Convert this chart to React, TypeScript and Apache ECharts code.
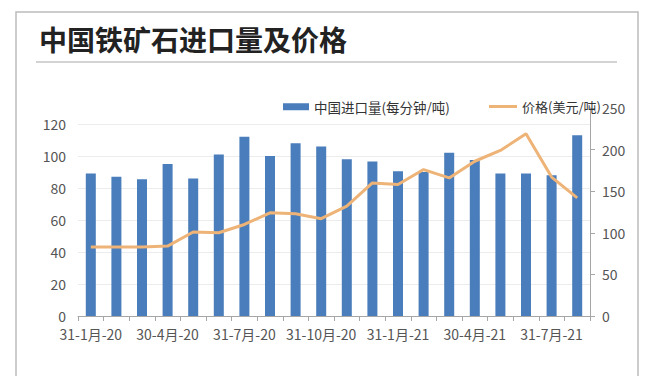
import React, { useEffect, useRef } from "react";
import * as echarts from "echarts";

const categories = [
  "31-1月-20", "29-2月-20", "31-3月-20", "30-4月-20", "31-5月-20", "30-6月-20",
  "31-7月-20", "31-8月-20", "30-9月-20", "31-10月-20", "30-11月-20", "31-12月-20",
  "31-1月-21", "28-2月-21", "31-3月-21", "30-4月-21", "31-5月-21", "30-6月-21",
  "31-7月-21", "31-8月-21",
];
const importVolume = [89, 87, 85.5, 95, 86, 101, 112, 100, 108, 106, 98, 96.5, 90.5, 90, 102, 97.5, 89, 89, 88, 113];
const price = [83, 83, 83, 84, 101, 100, 110, 124, 123, 117, 132, 160, 158, 176, 166, 186, 199, 219, 167, 142];
const barName = "中国进口量(每分钟/吨)";
const lineName = "价格(美元/吨)";
const titleText = "中国铁矿石进口量及价格";

const FONT = "'Noto Sans CJK SC', 'Noto Sans', sans-serif";

export default function App() {
  const ref = useRef<HTMLDivElement>(null);
  useEffect(() => {
    if (!ref.current) return;
    const chart = echarts.init(ref.current, null, { renderer: "svg" });
    const labelStyle = { color: "#555", fontSize: 14, lineHeight: 14, fontFamily: FONT };
    chart.setOption({
      animation: false,
      backgroundColor: "#ffffff",
      title: {
        text: titleText,
        left: 34,
        top: 20,
        textStyle: { fontSize: 28, fontWeight: "bold", color: "#222", fontFamily: FONT },
      },
      graphic: [
        { type: "rect", shape: { x: 16, y: 12, width: 622, height: 420 }, style: { fill: "none", stroke: "#bcbcbc", lineWidth: 1.5 }, silent: true },
        { type: "line", shape: { x1: 36, y1: 62, x2: 617, y2: 62 }, style: { stroke: "#c4c4c4", lineWidth: 1.5 }, silent: true },
      ],
      legend: [
        {
          data: [barName],
          left: 278,
          top: 95,
          itemWidth: 26,
          itemHeight: 7,
          icon: "rect",
          itemGap: 6,
          textStyle: { color: "#333", fontSize: 13.5, fontFamily: FONT },
        },
        {
          data: [lineName],
          left: 484,
          top: 95,
          itemWidth: 28,
          itemHeight: 3,
          icon: "rect",
          textStyle: { color: "#333", fontSize: 13, fontFamily: FONT },
        },
      ],
      grid: [
        { left: 78, right: 60, top: 124, bottom: 60 },
        { left: 78, right: 60, top: 108, bottom: 60 },
      ],
      xAxis: [
        {
          type: "category",
          gridIndex: 0,
          data: categories,
          axisLine: { lineStyle: { color: "#a6a6a6", width: 1 } },
          axisTick: { show: true, interval: 0, length: 5, lineStyle: { color: "#a6a6a6" } },
          axisLabel: { ...labelStyle, interval: 2, margin: 11 },
        },
        {
          type: "category",
          gridIndex: 1,
          data: categories,
          show: false,
        },
      ],
      yAxis: [
        {
          type: "value",
          gridIndex: 0,
          min: 0,
          max: 120,
          interval: 20,
          axisLine: { show: false },
          axisTick: { show: false },
          axisLabel: { ...labelStyle, margin: 12 },
          splitLine: { lineStyle: { color: "#ececec" } },
        },
        {
          type: "value",
          gridIndex: 1,
          position: "right",
          min: 0,
          max: 250,
          interval: 50,
          axisLine: { show: true, lineStyle: { color: "#a6a6a6" } },
          axisTick: { show: true, inside: false, length: 5, lineStyle: { color: "#a6a6a6" } },
          axisLabel: { ...labelStyle, margin: 12 },
          splitLine: { show: false },
        },
      ],
      series: [
        {
          name: barName,
          type: "bar",
          xAxisIndex: 0,
          yAxisIndex: 0,
          data: importVolume,
          barWidth: 10,
          itemStyle: { color: "#4a7dbb" },
        },
        {
          name: lineName,
          type: "line",
          xAxisIndex: 1,
          yAxisIndex: 1,
          data: price,
          symbol: "none",
          lineStyle: { color: "#eeb377", width: 3 },
          itemStyle: { color: "#eeb377" },
        },
      ],
    });
    return () => chart.dispose();
  }, []);
  return (
    <div
      ref={ref}
      style={{ position: "fixed", left: 0, top: 0, width: 650, height: 376 }}
    />
  );
}
